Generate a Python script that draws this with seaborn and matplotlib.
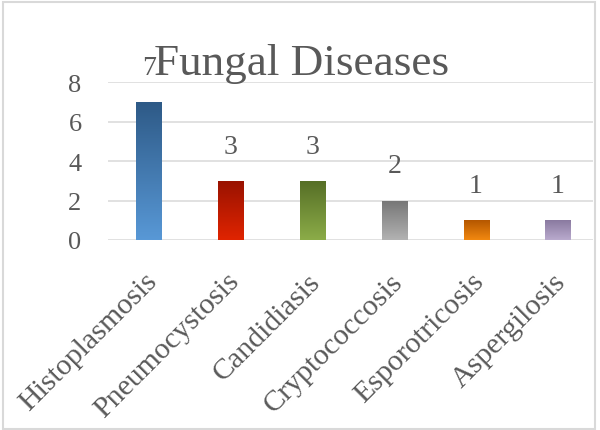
import numpy as np
import pandas as pd
import matplotlib
matplotlib.use("Agg")
import matplotlib.pyplot as plt
import matplotlib.colors as mcolors
import matplotlib.transforms as mtransforms
from matplotlib.patches import Rectangle
import seaborn as sns

# data
diseases = ["Histoplasmosis", "Pneumocystosis", "Candidiasis",
            "Cryptococcosis", "Esporotricosis", "Aspergilosis"]
cases = [7, 3, 3, 2, 1, 1]

# gradient colours per bar (top, bottom)
top_colors = ["#2e5a87", "#981200", "#566e26", "#767676", "#b45700", "#8a7aa0"]
bottom_colors = ["#5898d6", "#e02400", "#8bac48", "#b2b2b2", "#f28810", "#b9aacd"]

df = pd.DataFrame({"disease": diseases, "cases": cases})

sns.set_style("white")
plt.rcParams["font.family"] = ["Liberation Serif", "DejaVu Serif"]
txt = "#595959"

fig = plt.figure(figsize=(6, 4.31), dpi=100)
ax = fig.add_axes([108 / 600, 190 / 431, 485 / 600, 157.7 / 431])

sns.barplot(data=df, x="disease", y="cases", hue="disease",
            palette=bottom_colors, width=0.306, legend=False, ax=ax,
            edgecolor="none", zorder=3)

# vertical gradient fill on each bar
for patch, c_top, c_bot in zip(ax.patches, top_colors, bottom_colors):
    x0, y0 = patch.get_x(), patch.get_y()
    w, h = patch.get_width(), patch.get_height()
    cmap = mcolors.LinearSegmentedColormap.from_list("g", [c_bot, c_top])
    grad = np.linspace(0, 1, 100).reshape(-1, 1)
    im = ax.imshow(grad, cmap=cmap, origin="lower", aspect="auto",
                   extent=[x0, x0 + w, y0, y0 + h], zorder=4)
    im.set_clip_path(patch)

# data labels
for i, v in enumerate(cases):
    ax.annotate(str(v), (i, v), xytext=(0, 16), textcoords="offset points",
                ha="center", va="bottom", fontsize=20, color=txt)

ax.set_xlim(-0.5, 5.43)
ax.set_ylim(0, 8)
ax.set_yticks([0, 2, 4, 6, 8])
ax.yaxis.grid(True, color="#d9d9d9", linewidth=1.1, zorder=0)
ax.set_axisbelow(True)
for s in ax.spines.values():
    s.set_visible(False)
ax.set_xlabel("")
ax.set_ylabel("")
ax.tick_params(axis="both", length=0, colors=txt, labelsize=19)
ax.tick_params(axis="y", pad=19)
ax.tick_params(axis="x", pad=20, labelsize=21.5)
shift = mtransforms.ScaledTranslation(-0.05, 0, fig.dpi_scale_trans)
for lab in ax.get_xticklabels():
    lab.set_rotation(45)
    lab.set_ha("right")
    lab.set_va("top")
    lab.set_rotation_mode("anchor")
    lab.set_transform(lab.get_transform() + shift)

fig.text(301.5 / 600, 1 - 75 / 431, "Fungal Diseases", ha="center",
         va="baseline", fontsize=32.5, color=txt)

fig.patches.append(Rectangle((2.5 / 600, 1.5 / 431), 592.5 / 600, 427 / 431,
                             transform=fig.transFigure, fill=False,
                             edgecolor="#d9d9d9", linewidth=1.5))

fig.savefig("out.png", dpi=100)
